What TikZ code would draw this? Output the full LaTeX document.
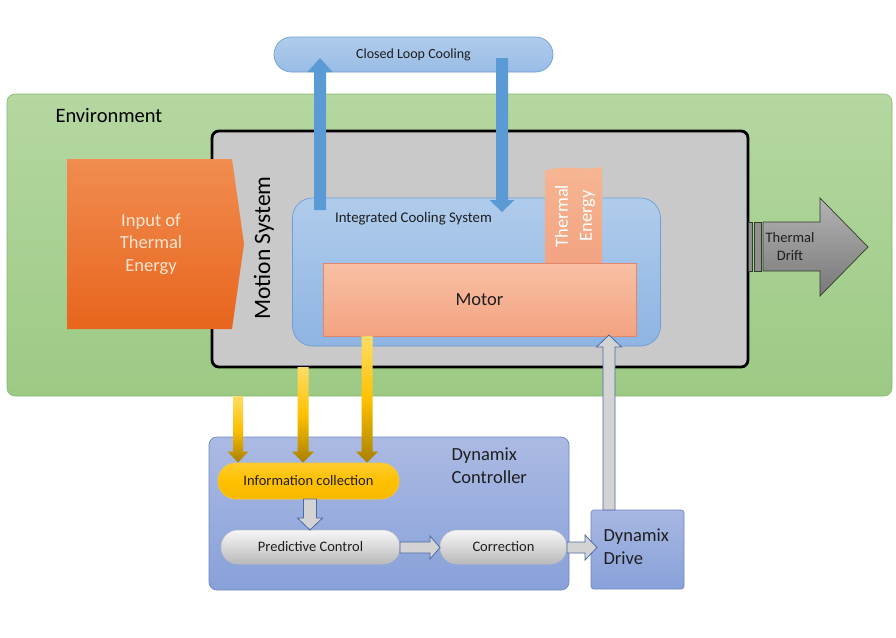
\documentclass[tikz,border=0pt]{standalone}
\usepackage{fontspec}
\setmainfont{Carlito}
\usetikzlibrary{calc}
\definecolor{envTop}{HTML}{B5D7A1}
\definecolor{envBot}{HTML}{9CCA84}
\definecolor{envLine}{HTML}{86B870}
\definecolor{msFill}{HTML}{C9C9C9}
\definecolor{bluTop}{HTML}{B0CCEC}
\definecolor{bluBot}{HTML}{8EB4E2}
\definecolor{bluLine}{HTML}{6D9ED6}
\definecolor{arrBlue}{HTML}{5B9BD5}
\definecolor{motTop}{HTML}{F8C0A4}
\definecolor{motBot}{HTML}{F3A381}
\definecolor{motLine}{HTML}{E0876A}
\definecolor{orTop}{HTML}{F08D50}
\definecolor{orBot}{HTML}{E8651D}
\definecolor{orText}{HTML}{FDE4D0}
\definecolor{ctlTop}{HTML}{ABBAE3}
\definecolor{ctlBot}{HTML}{88A1D9}
\definecolor{ctlLine}{HTML}{6F86C6}
\definecolor{yelTop}{HTML}{FFDD66}
\definecolor{yelMid}{HTML}{FFC000}
\definecolor{yelBot}{HTML}{A88000}
\definecolor{infTop}{HTML}{FFCC2E}
\definecolor{infBot}{HTML}{F7B900}
\definecolor{grTop}{HTML}{F7F7F7}
\definecolor{grBot}{HTML}{B9B9B9}
\definecolor{hollow}{HTML}{D3D3D3}
\definecolor{hollowLine}{HTML}{4A6AA5}
\definecolor{drTop}{HTML}{B3B3B3}
\definecolor{drBot}{HTML}{787878}
\definecolor{drLine}{HTML}{2E3E2A}
\definecolor{txt}{HTML}{1E1E1E}
\newcommand\blockarrow[6]{%
  \coordinate (bahead) at ($(#3)!#6!(#2)$);
  \path[#1] ($(#2)!#4!90:(#3)$) -- ($(bahead)!#4!90:(#3)$) -- ($(bahead)!#5!90:(#3)$) -- (#3)
    -- ($(bahead)!#5!-90:(#3)$) -- ($(bahead)!#4!-90:(#3)$) -- ($(#2)!#4!-90:(#3)$) -- cycle;}
\tikzset{
  box/.style={inner sep=0pt, outer sep=0pt},
  pill/.style={box, rounded corners=#1},
  bluearrow/.style={fill=arrBlue},
  yelarrow/.style={top color=yelTop, bottom color=yelBot, middle color=yelMid},
  hollowarrow/.style={fill=hollow, draw=hollowLine, line width=0.8pt, line join=miter},
  fA/.style={font=\fontsize{14}{17}\selectfont},
  fB/.style={font=\fontsize{18.5}{23}\selectfont},
}
\begin{document}
\begin{tikzpicture}[x=1pt,y=-1pt]
\useasboundingbox[fill=white] (0,0) rectangle (896,637);
% environment
\node[pill=8pt, minimum width=885pt, minimum height=302pt, top color=envTop, bottom color=envBot, draw=envLine, line width=0.6pt] (env) at (449.5,245) {};
\node[anchor=west, font=\fontsize{20.5}{24}\selectfont, text=black] (envl) at (52,116) {Environment};
% closed loop cooling
\node[pill=17.5pt, minimum width=279pt, minimum height=35pt, top color=bluTop, bottom color=bluBot!90!white, draw=bluLine, line width=0.7pt, fA, text=txt] (clc) at (413.5,54.5) {Closed Loop Cooling};
% motion system
\node[pill=7pt, minimum width=536pt, minimum height=236pt, fill=msFill, draw=black, line width=2.8pt] (ms) at (480,249) {};
\node[rotate=90, font=\fontsize{23.5}{28}\selectfont, text=black] (msl) at (264,248) {Motion System};
% input of thermal energy
\shade[top color=orTop, bottom color=orBot] (67,159) -- (232,159) -- (244,244) -- (232,329) -- (67,329) -- cycle;
\node[fB, align=center, text=orText, font=\fontsize{18.5}{22.5}\selectfont] (inp) at (151,244) {Input of\\Thermal\\Energy};
% integrated cooling system
\node[pill=20pt, minimum width=368pt, minimum height=148pt, top color=bluTop, bottom color=bluBot, draw=bluLine, line width=0.7pt] (ics) at (476.5,272) {};
\node[fA, font=\fontsize{14.8}{17}\selectfont, text=txt] (icsl) at (413.5,219) {Integrated Cooling System};
% thermal energy column
\shade[top color=motTop!80!orTop, bottom color=motBot] (545,263) -- (545,171) .. controls (563,164) and (584,171) .. (602,167) -- (602,263) -- cycle;
\node[rotate=90, align=center, text=white, font=\fontsize{18.5}{24}\selectfont] (tel) at (575,216) {Thermal\\Energy};
% motor
\node[box, minimum width=313pt, minimum height=73pt, top color=motTop, bottom color=motBot, draw=motLine, line width=0.6pt, fB, text=txt] (motor) at (479.5,299.5) {Motor};
% blue arrows
\coordinate (bu1) at (320,210);
\coordinate (bu2) at (320,58);
\coordinate (bd1) at (502,58);
\coordinate (bd2) at (502,212);
\blockarrow{bluearrow}{bu1}{bu2}{6pt}{12.5pt}{14pt}
\blockarrow{bluearrow}{bd1}{bd2}{6pt}{12.5pt}{12pt}
% thermal drift
\path[fill=drBot!60!drTop, draw=drLine, line width=0.6pt] (748,222) rectangle (752,271);
\path[fill=drBot!60!drTop, draw=drLine, line width=0.6pt] (754,222) rectangle (761,271);
\shade[top color=drTop, bottom color=drBot, draw=drLine, line width=0.7pt] (763,222) -- (820,222) -- (820,198) -- (868,247) -- (820,296) -- (820,271) -- (763,271) -- cycle;
\node[align=center, text=txt, font=\fontsize{14.5}{18}\selectfont] (drift) at (790,247) {Thermal\\Drift};
% controller
\node[pill=8pt, minimum width=360pt, minimum height=153pt, top color=ctlTop, bottom color=ctlBot, draw=ctlLine, line width=0.7pt] (ctrl) at (389,513.5) {};
\node[anchor=north west, align=left, text=txt, font=\fontsize{18.5}{23}\selectfont] (ctrll) at (448,444) {Dynamix\\Controller};
\node[pill=18pt, minimum width=181pt, minimum height=36pt, top color=infTop, bottom color=infBot, middle color=yelMid, draw=yelMid!85!white, line width=0.6pt, fA, text=txt, font=\fontsize{14.5}{17}\selectfont] (info) at (308.5,481) {Information collection};
\node[pill=17pt, minimum width=179pt, minimum height=34pt, top color=grTop, bottom color=grBot, draw=grBot!90!white, line width=0.5pt, text=txt, font=\fontsize{14.5}{17}\selectfont] (pred) at (310.5,547) {Predictive Control};
\node[pill=17pt, minimum width=127pt, minimum height=34pt, top color=grTop, bottom color=grBot, draw=grBot!90!white, line width=0.5pt, text=txt, font=\fontsize{14.5}{17}\selectfont] (corr) at (503.5,547) {Correction};
\node[pill=3pt, minimum width=93pt, minimum height=79pt, top color=ctlTop!90!ctlBot, bottom color=ctlBot, draw=ctlLine, line width=0.7pt] (drive) at (637.5,549.5) {};
\node[anchor=north west, align=left, text=txt, font=\fontsize{18.5}{23}\selectfont] (drivel) at (600,525) {Dynamix\\Drive};
% yellow arrows
\coordinate (y1s) at (238,396);
\coordinate (y1e) at (238,462.5);
\coordinate (y2s) at (303,367);
\coordinate (y2e) at (303,462.5);
\coordinate (y3s) at (367,336);
\coordinate (y3e) at (367,462.5);
\blockarrow{yelarrow}{y1s}{y1e}{5pt}{10.5pt}{11pt}
\blockarrow{yelarrow}{y2s}{y2e}{5.5pt}{11pt}{11pt}
\blockarrow{yelarrow}{y3s}{y3e}{5.5pt}{11pt}{11pt}
% hollow arrows
\coordinate (h1s) at (310,499);
\coordinate (h1e) at (310,530);
\blockarrow{hollowarrow}{h1s}{h1e}{6.5pt}{12.5pt}{12pt}
\coordinate (h2s) at (400,547.5);
\coordinate (h2e) at (440,547.5);
\blockarrow{hollowarrow}{h2s}{h2e}{5.5pt}{11.5pt}{10pt}
\coordinate (h3s) at (567,547.5);
\coordinate (h3e) at (597,547.5);
\blockarrow{hollowarrow}{h3s}{h3e}{5.5pt}{12.5pt}{12pt}
\coordinate (h4s) at (609,510);
\coordinate (h4e) at (609,335);
\blockarrow{hollowarrow}{h4s}{h4e}{6pt}{12.5pt}{12pt}
\end{tikzpicture}
\end{document}
